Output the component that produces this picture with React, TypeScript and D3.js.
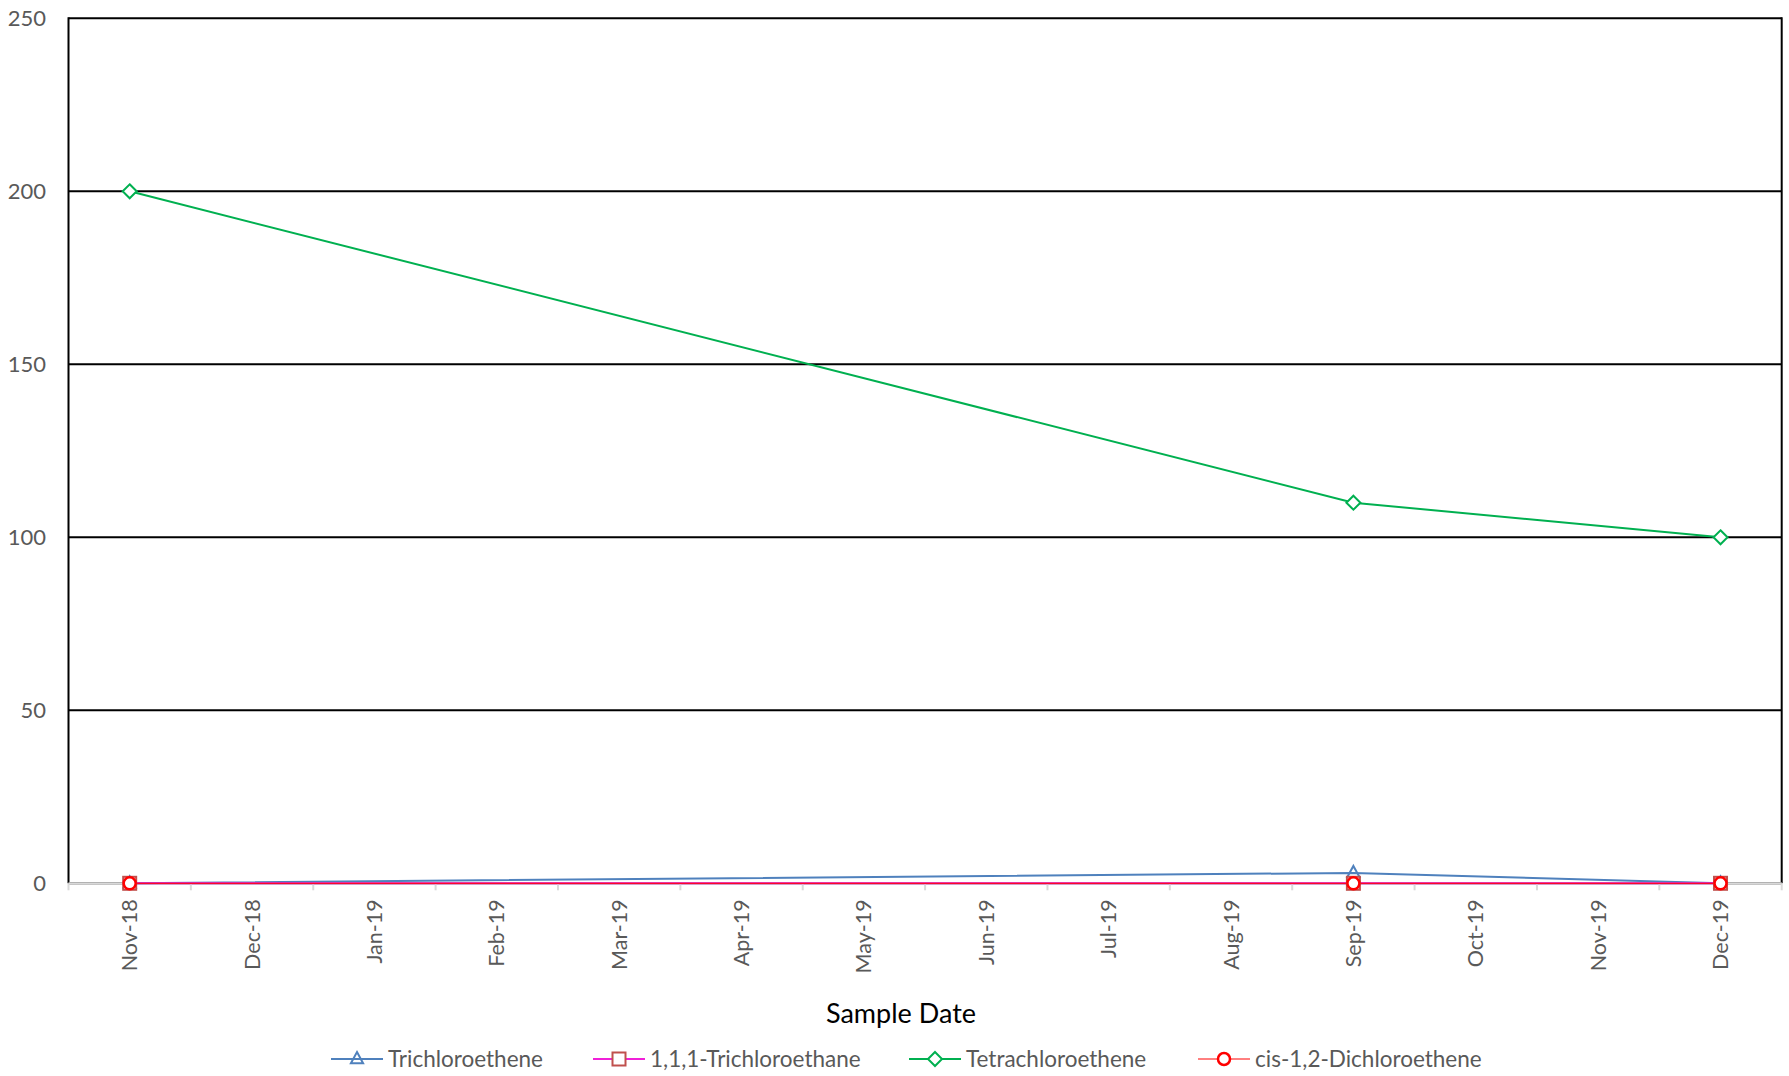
import React from "react";
import * as d3 from "d3";

// Monthly axis categories (date axis with month base unit)
const months = [
  "Nov-18", "Dec-18", "Jan-19", "Feb-19", "Mar-19", "Apr-19", "May-19",
  "Jun-19", "Jul-19", "Aug-19", "Sep-19", "Oct-19", "Nov-19", "Dec-19",
];
const sampleDates = ["Nov-18", "Sep-19", "Dec-19"];
const yTicks = [0, 50, 100, 150, 200, 250];

// Concentrations per sample date
const trichloroethene = [0, 3, 0];
const trichloroethane111 = [0, 0, 0];
const tetrachloroethene = [200, 110, 100];
const cisDichloroethene = [0, 0, 0];

type Series = {
  name: string;
  values: number[];
  color: string;
  width: number;
  marker: "triangle" | "square" | "diamond" | "circle";
  markerColor: string;
};

const series: Series[] = [
  { name: "Trichloroethene", values: trichloroethene, color: "#4f81bd", width: 2, marker: "triangle", markerColor: "#4f81bd" },
  { name: "1,1,1-Trichloroethane", values: trichloroethane111, color: "#f020d8", width: 2, marker: "square", markerColor: "#c0504d" },
  { name: "Tetrachloroethene", values: tetrachloroethene, color: "#00b050", width: 2, marker: "diamond", markerColor: "#00b050" },
  { name: "cis-1,2-Dichloroethene", values: cisDichloroethene, color: "#ff0000", width: 1, marker: "circle", markerColor: "#ff0000" },
];

const W = 1789;
const H = 1076;
const left = 68.5;
const right = 1781.7;
const top = 18.3;
const bottom = 883.3;
const FONT = "Lato, 'Open Sans', sans-serif";

function Marker({ kind, x, y, color }: { kind: Series["marker"]; x: number; y: number; color: string }) {
  const sw = 2;
  if (kind === "triangle") {
    const r = 7;
    const pts = `${x},${y - r} ${x + r * 0.87},${y + r * 0.6} ${x - r * 0.87},${y + r * 0.6}`;
    return <polygon points={pts} fill="none" stroke={color} strokeWidth={sw} />;
  }
  if (kind === "square") {
    const s = 13;
    return <rect x={x - s / 2} y={y - s / 2} width={s} height={s} fill="#ffffff" stroke={color} strokeWidth={sw} />;
  }
  if (kind === "diamond") {
    const r = 7;
    const pts = `${x},${y - r} ${x + r},${y} ${x},${y + r} ${x - r},${y}`;
    return <polygon points={pts} fill="#ffffff" stroke={color} strokeWidth={sw} />;
  }
  return <circle cx={x} cy={y} r={6} fill="#ffffff" stroke={color} strokeWidth={2.5} />;
}

export default function App() {
  const xBand = d3.scaleBand<string>().domain(months).range([left, right]).padding(0);
  const xc = (m: string) => (xBand(m) as number) + xBand.bandwidth() / 2;
  const y = d3.scaleLinear().domain([0, 250]).range([bottom, top]);

  const line = d3
    .line<[number, number]>()
    .x((d) => d[0])
    .y((d) => d[1]);

  const boundaries = months.map((m) => xBand(m) as number).concat([right]);

  const legendItems = [
    { s: series[0], x: 331 },
    { s: series[1], x: 593 },
    { s: series[2], x: 909 },
    { s: series[3], x: 1198 },
  ];
  const legendY = 1059;

  return (
    <svg
      width={W}
      height={H}
      style={{ position: "absolute", left: 0, top: 0, background: "#ffffff" }}
      fontFamily={FONT}
    >
      {/* horizontal gridlines */}
      {yTicks.map((t) => (
        <line key={t} x1={left} x2={right} y1={y(t)} y2={y(t)} stroke="#000000" strokeWidth={2} />
      ))}
      {/* plot frame */}
      <line x1={left} x2={left} y1={top - 1} y2={bottom} stroke="#000000" strokeWidth={2} />
      <line x1={right} x2={right} y1={top - 1} y2={bottom} stroke="#000000" strokeWidth={2} />
      {/* category axis */}
      <line x1={left} x2={right} y1={bottom} y2={bottom} stroke="#d9d9d9" strokeWidth={2} />
      {boundaries.map((b, i) => (
        <line key={i} x1={b} x2={b} y1={bottom} y2={bottom + 7} stroke="#d9d9d9" strokeWidth={2} />
      ))}
      {/* y tick labels */}
      {yTicks.map((t) => (
        <text key={t} x={46} y={y(t)} dy="0.35em" textAnchor="end" fontSize={22} fill="#595959">
          {t}
        </text>
      ))}
      {/* x tick labels */}
      {months.map((m) => (
        <text
          key={m}
          transform={`translate(${xc(m)},${bottom + 16}) rotate(-90)`}
          textAnchor="end"
          dy="0.35em"
          fontSize={21.5}
          fill="#595959"
        >
          {m}
        </text>
      ))}
      <text x={901} y={1014} dy="0.35em" textAnchor="middle" fontSize={27} fill="#000000">
        Sample Date
      </text>

      {/* series lines */}
      {series.map((s) => (
        <path
          key={s.name}
          d={line(sampleDates.map((d, i) => [xc(d), y(s.values[i])])) as string}
          fill="none"
          stroke={s.color}
          strokeWidth={s.width}
        />
      ))}
      {/* series markers */}
      {series.map((s) =>
        sampleDates.map((d, i) => (
          <Marker key={s.name + d} kind={s.marker} x={xc(d)} y={y(s.values[i])} color={s.markerColor} />
        ))
      )}

      {/* legend */}
      {legendItems.map(({ s, x }) => (
        <g key={s.name}>
          <line x1={x} x2={x + 52} y1={legendY} y2={legendY} stroke={s.color} strokeWidth={s.width} />
          <Marker kind={s.marker} x={x + 26} y={legendY} color={s.markerColor} />
          <text x={x + 57} y={legendY} dy="0.35em" fontSize={22.5} fill="#595959">
            {s.name}
          </text>
        </g>
      ))}
    </svg>
  );
}
